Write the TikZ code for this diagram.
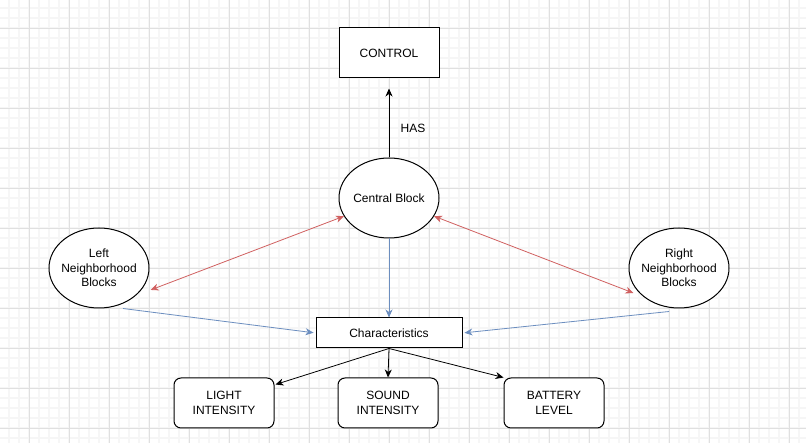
\documentclass[tikz,border=0pt]{standalone}
\usepackage{fontspec}
\setmainfont{Liberation Sans}
\usetikzlibrary{arrows.meta,shapes.geometric}
\definecolor{gridminor}{HTML}{F6F6F6}
\definecolor{gridmajor}{HTML}{E0E0E0}
\definecolor{linkred}{HTML}{D06060}
\definecolor{linkblue}{HTML}{6C8EBF}

\begin{document}
\begin{tikzpicture}[x=1pt, y=-1pt,
	every node/.style={font=\fontsize{12}{14.5}\selectfont, align=center},
	blockbox/.style={draw, line width=1pt, rectangle, minimum width=100pt, minimum height=50pt, inner sep=0pt},
	valuebox/.style={blockbox, rounded corners=7pt},
	blockell/.style={draw, line width=1pt, ellipse, minimum width=100pt, minimum height=80pt, inner sep=0pt, inner xsep=-3pt},
	tip/.style={-{Stealth[length=8pt, width=7pt, inset=2.5pt]}},
	bitip/.style={{Stealth[length=8pt, width=7pt, inset=2.5pt]}-{Stealth[length=8pt, width=7pt, inset=2.5pt]}}]
		\useasboundingbox (0, 0) rectangle (806, 443);
		% grid
		\fill [white] (0, 0) rectangle (806, 443);
		\foreach \x in {9, 19, ..., 806}
			\draw [gridminor, line width=1.2pt] (\x, 0) -- (\x, 443);
		\foreach \y in {8, 18, ..., 443}
			\draw [gridminor, line width=1.2pt] (0, \y) -- (806, \y);
		\foreach \x in {29, 69, ..., 806}
			\draw [gridmajor, line width=0.8pt] (\x, 0) -- (\x, 443);
		\foreach \y in {28, 68, ..., 443}
			\draw [gridmajor, line width=0.8pt] (0, \y) -- (806, \y);
		% blocks
		\node [blockbox, fill=white] (control) at (389, 53) {CONTROL};
		\node [blockell, fill=white] (central) at (389, 198) {Central Block};
		\node [blockell, fill=white] (leftnb) at (99, 268) {Left\\Neighborhood\\Blocks};
		\node [blockell, fill=white] (rightnb) at (679, 268) {Right\\Neighborhood\\Blocks};
		\node [blockbox, fill=white, minimum width=146pt, minimum height=30pt] (chars) at (389, 333) {Characteristics};
		\node [valuebox, fill=white] (light) at (224, 403) {LIGHT\\INTENSITY};
		\node [valuebox, fill=white] (sound) at (388, 403) {SOUND\\INTENSITY};
		\node [valuebox, fill=white] (battery) at (554, 403) {BATTERY\\LEVEL};
		\node (has) at (413, 128) {HAS};
		% links
		\draw [tip, line width=0.8pt, shorten >=10pt] (central.north) -- (control.south);
		\draw [bitip, linkred, line width=0.8pt] (central.202) -- ([shift={(7, 3)}]leftnb.337);
		\draw [bitip, linkred, line width=0.8pt] (central.338) -- ([shift={(-4, 2)}]rightnb.209);
		\draw [tip, linkblue, line width=0.8pt] (central.south) -- (chars.north);
		\draw [tip, linkblue, line width=0.8pt, shorten >=2pt] ([xshift=24pt]leftnb.south) -- (chars.west);
		\draw [tip, linkblue, line width=0.8pt, shorten >=2pt] ([shift={(-10, 3)}]rightnb.south) -- (chars.east);
		\draw [tip, line width=0.8pt] (chars.south) -- ([shift={(1, 7)}]light.north east);
		\draw [tip, line width=0.8pt] (chars.south) -- (sound.north);
		\draw [tip, line width=0.8pt] (chars.south) -- (battery.north west);
	\end{tikzpicture}
\end{document}
